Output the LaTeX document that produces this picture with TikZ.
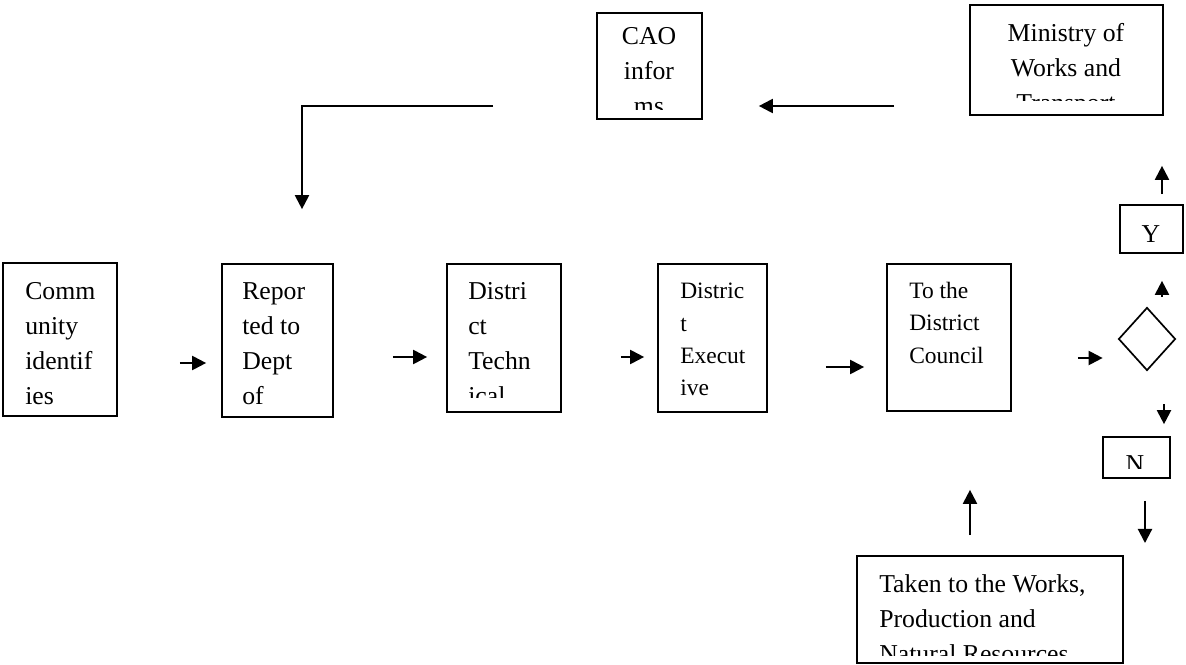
\documentclass[tikz,border=0pt]{standalone}
\usepackage{fontspec}
\setmainfont{Liberation Serif}
\usetikzlibrary{arrows.meta, shapes.geometric, fit}

\newlength{\pxu}
\setlength{\pxu}{0.025cm}

% box drawn from its corners, text clipped at a given line
\newcommand{\wordbox}[7]{%
  \node[box, fit={(#2) (#3)}] (#1) {};
  \begin{scope}
    \clip (#1.north west) rectangle (#1.east |- 0,#4);
    \node[#6] (#1_text) at (#5) {#7};
  \end{scope}
}

\begin{document}
\begin{tikzpicture}[
    x=0.025cm, y=-0.025cm,
    box/.style={draw, line width=1.2pt, inner sep=0pt},
    bigtext/.style={inner sep=0pt, align=left, font=\fontsize{18.3pt}{24.9pt}\selectfont},
    smalltext/.style={inner sep=0pt, align=left, font=\fontsize{16.7pt}{23pt}\selectfont},
    arrow/.style={line width=1.5pt, -{Triangle[length=10pt, width=10pt]}},
    decision/.style={diamond, draw, line width=1.2pt, inner sep=0pt,
            minimum width=57\pxu, minimum height=63\pxu}
    ]
    \useasboundingbox (0,0) rectangle (1186,665);

    % --- Main row ---
    \wordbox{comm}{3,263}{117,416}{416}{25,282}{bigtext, anchor=north west}{Comm\\unity\\identif\\ies}
    \wordbox{rep}{222,264}{333,417}{417}{242,282}{bigtext, anchor=north west}{Repor\\ted to\\Dept\\of}
    \wordbox{dtech}{447,264}{561,412}{397}{468,282}{bigtext, anchor=north west}{Distri\\ct\\Techn\\ical}
    \wordbox{dexec}{658,264}{767,412}{412}{680,283}{smalltext, anchor=north west}{Distric\\t\\Execut\\ive}
    \wordbox{council}{887,264}{1011,411}{411}{909,282}{smalltext, anchor=north west}{To the\\District\\Council}
    \node[decision] (dec) at (1147,339) {};

    % --- Top row ---
    \wordbox{cao}{597,13}{702,119}{109}{649,27}{bigtext, align=center, anchor=north}{CAO\\infor\\ms}
    \wordbox{ministry}{970,5}{1163,115}{100}{1066,23}{bigtext, align=center, anchor=north}{Ministry of\\Works and\\Transport}

    % --- Decision branches ---
    \wordbox{ybox}{1120,205}{1183,253}{253}{1151,225}{bigtext, anchor=north}{Y}
    \wordbox{nbox}{1103,437}{1170,478}{468}{1135,455}{bigtext, anchor=north}{N}
    \coordinate (nend) at (1145,543);

    % --- Committee ---
    \wordbox{taken}{857,556}{1123,663}{655}{879,574}{bigtext, anchor=north west}{Taken to the Works,\\Production and\\Natural Resources}

    % --- Arrows ---
    \draw[arrow, shorten <=62\pxu, shorten >=15\pxu] (comm.east |- 0,363) -- (rep.west |- 0,363);
    \draw[arrow, shorten <=59\pxu, shorten >=19\pxu] (rep.east |- 0,357) -- (dtech.west |- 0,357);
    \draw[arrow, shorten <=59\pxu, shorten >=13\pxu] (dtech.east |- 0,357) -- (dexec.west |- 0,357);
    \draw[arrow, shorten <=58\pxu, shorten >=22\pxu] (dexec.east |- 0,367) -- (council.west |- 0,367);
    \draw[arrow, shorten <=66\pxu, shorten >=15\pxu] (council.east |- 0,358) -- (dec.west |- 0,358);
    \draw[arrow, shorten <=10\pxu, shorten >=27\pxu] (dec.north -| 1162,0) -- (ybox.south -| 1162,0);
    \draw[arrow, shorten <=10\pxu, shorten >=50\pxu] (ybox.north -| 1162,0) -- (ministry.south -| 1162,0);
    \draw[arrow, shorten <=33\pxu, shorten >=12\pxu] (dec.south -| 1164,0) -- (nbox.north -| 1164,0);
    \draw[arrow, shorten <=22\pxu] (nbox.south -| nend) -- (nend);
    \draw[arrow, shorten <=20\pxu, shorten >=78\pxu] (taken.north -| 970,0) -- (council.south -| 970,0);
    \draw[arrow, shorten <=75\pxu, shorten >=56\pxu] (ministry.west |- 0,106) -- (cao.east |- 0,106);
    \draw[arrow, shorten >=54\pxu] (cao.west |- 0,106) ++(-103,0) -| (rep.north -| 302,0);

\end{tikzpicture}
\end{document}
